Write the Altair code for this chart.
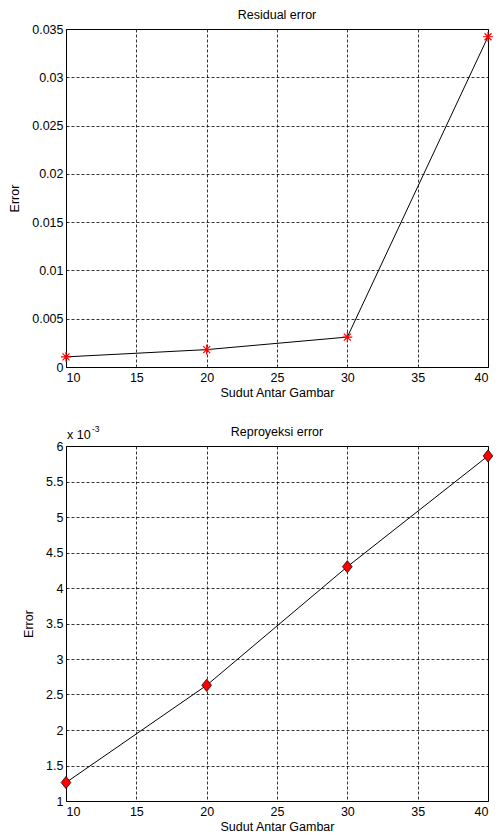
import altair as alt
import pandas as pd

# Data
sudut = [10, 20, 30, 40]
residual_error = [0.00105, 0.0018, 0.0031, 0.0342]
reproyeksi_error = [0.00126, 0.00263, 0.00430, 0.00586]

x_ticks = [10, 15, 20, 25, 30, 35, 40]
y1_ticks = [0, 0.005, 0.01, 0.015, 0.02, 0.025, 0.03, 0.035]
y2_ticks = [0.001, 0.0015, 0.002, 0.0025, 0.003, 0.0035, 0.004, 0.0045, 0.005, 0.0055, 0.006]

titles = ["Residual error", "Reproyeksi error"]
x_title = "Sudut Antar Gambar"
y_title = "Error"

df1 = pd.DataFrame({"x": sudut, "y": residual_error})
df2 = pd.DataFrame({"x": sudut, "y": reproyeksi_error})

FONT = "Liberation Sans"
FS = 12.5
W = 422
ASTERISK = "M-1,0L1,0M0,-1L0,1M-0.7,-0.7L0.7,0.7M-0.7,0.7L0.7,-0.7"
DIAMOND = "M-0.8,0L0,-1L0.8,0L0,1Z"

x_enc = alt.X("x:Q", scale=alt.Scale(domain=[10, 40], nice=False),
              axis=alt.Axis(values=x_ticks, title=x_title))


def title_mark(text):
    return alt.Chart(pd.DataFrame({"t": [text]})).mark_text(
        align="center", baseline="alphabetic", fontSize=FS, font=FONT, color="black"
    ).encode(text="t:N", x=alt.value(W / 2), y=alt.value(-10))


# Top chart
y1 = alt.Y("y:Q", scale=alt.Scale(domain=[0, 0.035], nice=False),
           axis=alt.Axis(values=y1_ticks, format="~g", title=y_title))
base1 = alt.Chart(df1).encode(x=x_enc, y=y1)
top = alt.layer(
    base1.mark_line(color="black", strokeWidth=1),
    base1.mark_point(shape=ASTERISK, filled=False, color="red", size=100, strokeWidth=1.2, opacity=1),
    title_mark(titles[0]),
).properties(width=W, height=338)

# Bottom chart
y2 = alt.Y("y:Q", scale=alt.Scale(domain=[0.001, 0.006], nice=False),
           axis=alt.Axis(values=y2_ticks, labelExpr="format(datum.value*1000, '~g')", title=y_title))
base2 = alt.Chart(df2).encode(x=x_enc, y=y2)
bottom = alt.layer(
    base2.mark_line(color="black", strokeWidth=1),
    base2.mark_point(shape=DIAMOND, filled=True, fill="red", stroke="black", strokeWidth=0.7, size=150, opacity=1),
    alt.Chart(pd.DataFrame({"t": ["x 10"]})).mark_text(
        align="left", baseline="alphabetic", fontSize=FS, font=FONT, color="black")
        .encode(text="t:N", x=alt.value(1), y=alt.value(-7)),
    alt.Chart(pd.DataFrame({"t": ["-3"]})).mark_text(
        align="left", baseline="alphabetic", fontSize=8.5, font=FONT, color="black")
        .encode(text="t:N", x=alt.value(26), y=alt.value(-14)),
    title_mark(titles[1]),
).properties(width=W, height=355)

chart = alt.vconcat(top, bottom, spacing=24).configure_view(
    stroke="black", strokeWidth=1
).configure_axis(
    grid=True, gridColor="black", gridDash=[3, 2], gridWidth=0.8, gridOpacity=1,
    domain=False, ticks=False,
    labelFont=FONT, labelFontSize=FS, labelColor="black",
    titleFont=FONT, titleFontSize=FS, titleFontWeight="normal", titleColor="black",
).configure_axisX(titlePadding=3, labelPadding=4).configure_axisY(titlePadding=10, labelPadding=3
).properties(padding={"left": 0, "top": 0, "right": 0, "bottom": 0}, background="white")

chart.save("out.html", embed_options={"renderer": "svg", "actions": False})
